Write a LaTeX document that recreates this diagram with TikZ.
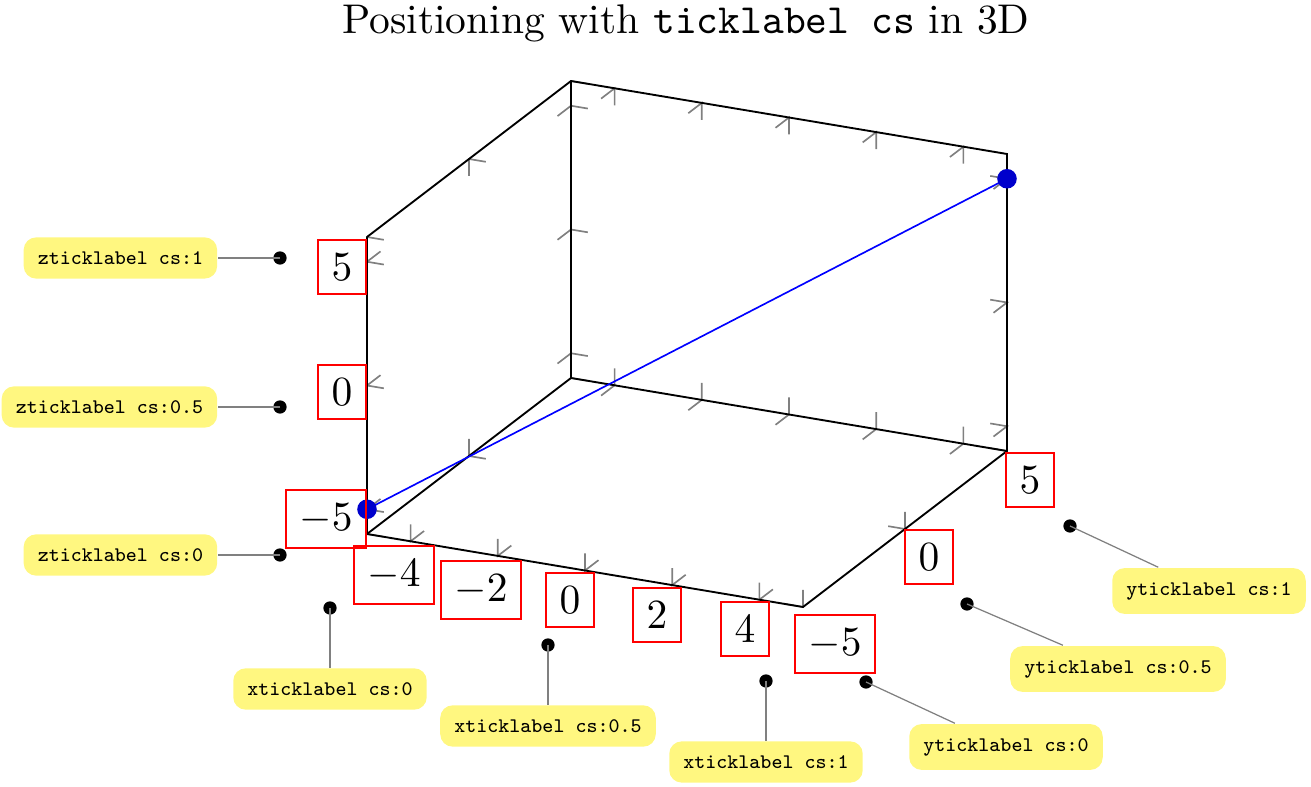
\documentclass[tikz,border=0pt]{standalone}
\usetikzlibrary{calc}
\definecolor{pinfill}{RGB}{255,247,128}
\begin{document}
\begin{tikzpicture}[x=0.24096pt,y=-0.24096pt,
  edge/.style={black,line width=0.45pt},
  tickline/.style={gray,line width=0.4pt},
  ticklab/.style={draw=red,line width=0.45pt,inner sep=0.333em,font=\normalsize},
  csbox/.style={fill=pinfill,rounded corners=3pt,inner sep=3.4pt,font=\tiny\ttfamily,minimum height=9.9pt},
  pinline/.style={gray,line width=0.3pt},
  dotn/.style={circle,fill=black,inner sep=0pt,minimum size=3.2pt},
  bluemark/.style={circle,fill=blue!80!black,draw=blue!80!black,inner sep=0pt,minimum size=4.3pt}]
\useasboundingbox (0,0) rectangle (1311,787);
\node[anchor=base] (title) at (686,34) {Positioning with \texttt{ticklabel cs} in 3D};
\begin{scope}[shift={(687,344)},x={(10.506pt,-1.759pt)},y={(4.916pt,3.759pt)},z={(0pt,5.964pt)}]
  \coordinate (A) at (-5,-5,-6);
  \coordinate (X1) at (5,-5,-6);
  \coordinate (Y1) at (5,5,-6);
  \coordinate (B) at (-5,5,-6);
  \coordinate (AT) at (-5,-5,6);
  \coordinate (BT) at (-5,5,6);
  \coordinate (Y1T) at (5,5,6);
  % x ticks
  \foreach \v in {-4,-2,0,2,4} {
    \draw[tickline] (\v,-5,-6) +(0,0.662,0) -- (\v,-5,-6) -- +(0,0,0.687);
    \draw[tickline] (\v,5,-6) +(0,-0.662,0) -- (\v,5,-6) -- +(0,0,0.687);
    \draw[tickline] (\v,5,6) +(0,-0.662,0) -- (\v,5,6) -- +(0,0,-0.687);
  }
  % y ticks
  \foreach \v in {-5,0,5} {
    \draw[tickline] (5,\v,-6) +(-0.385,0,0) -- (5,\v,-6) -- +(0,0,0.687);
    \draw[tickline] (-5,\v,-6) +(0.385,0,0) -- (-5,\v,-6) -- +(0,0,0.687);
    \draw[tickline] (-5,\v,6) +(0.385,0,0) -- (-5,\v,6) -- +(0,0,-0.687);
  }
  % z ticks
  \foreach \v in {-5,0,5} {
    \draw[tickline] (-5,-5,\v) +(0.385,0,0) -- (-5,-5,\v) -- +(0,0.662,0);
    \draw[tickline] (-5,5,\v) +(0.385,0,0) -- (-5,5,\v) -- +(0,-0.662,0);
    \draw[tickline] (5,5,\v) +(-0.385,0,0) -- (5,5,\v) -- +(0,-0.662,0);
  }
  % box edges
  \draw[edge] (AT) -- (A) -- (X1) -- (Y1) -- (Y1T) -- (BT) -- (AT);
  \draw[edge] (BT) -- (B);
  \draw[edge] (A) -- (B) -- (Y1);
  % plot
  \coordinate (p0) at (-5,-5,-5);
  \coordinate (p1) at (5,5,5);
  \draw[blue,line width=0.4pt] (p0) -- (p1);
  \node[bluemark] (m0) at (p0) {};
  \node[bluemark] (m1) at (p1) {};
\end{scope}
% tick labels
\node[ticklab] (zl1) at (342,267) {$5$};
\node[ticklab] (zl2) at (342,392) {$0$};
\node[ticklab] (zl3) at (326,519) {$-5$};
\node[ticklab] (xl1) at (394,575) {$-4$};
\node[ticklab] (xl2) at (481,590) {$-2$};
\node[ticklab] (xl3) at (570,600) {$0$};
\node[ticklab] (xl4) at (657,615) {$2$};
\node[ticklab] (xl5) at (745,629) {$4$};
\node[ticklab] (yl1) at (835,644) {$-5$};
\node[ticklab] (yl2) at (929,557) {$0$};
\node[ticklab] (yl3) at (1030,480) {$5$};
% ticklabel cs markers
\node[csbox,anchor=east] (zb1) at (218,258) {zticklabel cs:1};
\node[csbox,anchor=east] (zb2) at (218,407) {zticklabel cs:0.5};
\node[csbox,anchor=east] (zb3) at (218,555) {zticklabel cs:0};
\node[csbox] (xb1) at (330,689) {xticklabel cs:0};
\node[csbox] (xb2) at (548,726) {xticklabel cs:0.5};
\node[csbox] (xb3) at (766,762) {xticklabel cs:1};
\node[csbox] (yb1) at (1006,747) {yticklabel cs:0};
\node[csbox] (yb2) at (1118,669) {yticklabel cs:0.5};
\node[csbox] (yb3) at (1209,591) {yticklabel cs:1};
\node[dotn] (zd1) at (280,258) {};
\node[dotn] (zd2) at (280,407) {};
\node[dotn] (zd3) at (280,555) {};
\node[dotn] (xd1) at (330,608) {};
\node[dotn] (xd2) at (548,645) {};
\node[dotn] (xd3) at (766,681) {};
\node[dotn] (yd1) at (866,682) {};
\node[dotn] (yd2) at (967,604) {};
\node[dotn] (yd3) at (1070,526) {};
\foreach \a/\b in {zd1/zb1,zd2/zb2,zd3/zb3,xd1/xb1,xd2/xb2,xd3/xb3,yd1/yb1,yd2/yb2,yd3/yb3} {
  \draw[pinline] (\a.center) -- (\b);
}
\end{tikzpicture}
\end{document}
